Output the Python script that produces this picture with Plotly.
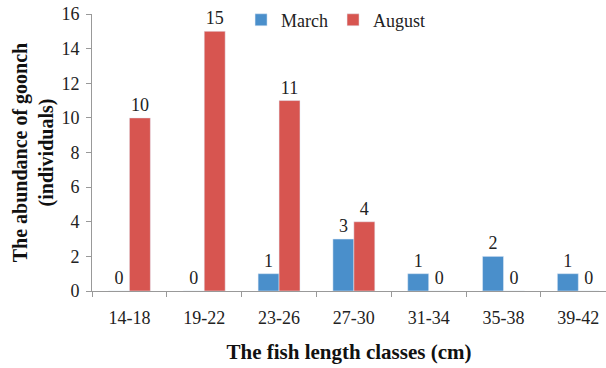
import plotly.graph_objects as go

categories = ["14-18", "19-22", "23-26", "27-30", "31-34", "35-38", "39-42"]
march = [0, 0, 1, 3, 1, 2, 1]
august = [10, 15, 11, 4, 0, 0, 0]
y_ticks = [0, 2, 4, 6, 8, 10, 12, 14, 16]

FONT = "Liberation Serif, Times New Roman, serif"

fig = go.Figure()
fig.add_trace(go.Bar(x=categories, y=march, name="March", marker_color="#4A8FCB",
                     text=[str(v) for v in march], textposition="outside",
                     textfont=dict(family=FONT, size=18, color="#222"), cliponaxis=False))
fig.add_trace(go.Bar(x=categories, y=august, name="August", marker_color="#D75550",
                     text=[str(v) for v in august], textposition="outside",
                     textfont=dict(family=FONT, size=18, color="#222"), cliponaxis=False))

fig.update_layout(
    width=606, height=368,
    margin=dict(l=92, r=0, t=14, b=77, autoexpand=False),
    paper_bgcolor="white", plot_bgcolor="white",
    barmode="group", bargap=0.44, bargroupgap=0,
    font=dict(family=FONT, size=18, color="#222"),
    legend=dict(orientation="h", x=0.29, y=0.978, xanchor="left", yanchor="middle",
                font=dict(family=FONT, size=18, color="#222"), bgcolor="rgba(0,0,0,0)",
                itemwidth=30, tracegroupgap=0),
    xaxis=dict(range=[-0.5, 6.37], showline=True, linecolor="#999", linewidth=1,
               ticks="outside", tickson="boundaries", ticklen=5, tickcolor="#999",
               automargin=False, ticklabelstandoff=10,
               tickfont=dict(family=FONT, size=18, color="#222"),
               title=dict(text="<b>The fish length classes (cm)</b>",
                          font=dict(family=FONT, size=21, color="#111"), standoff=17)),
    yaxis=dict(range=[0, 16], tickvals=y_ticks, showline=True, linecolor="#999", linewidth=1,
               ticks="outside", ticklen=5, tickcolor="#999", showgrid=False, zeroline=False,
               automargin=False, ticklabelstandoff=3,
               tickfont=dict(family=FONT, size=18, color="#222"),
               title=dict(text="<b>The abundance of goonch<br>(individuals)</b>",
                          font=dict(family=FONT, size=20, color="#111"), standoff=2)),
)

fig.write_html("out.html", config={"displayModeBar": False},
               post_script="document.body.style.margin='0';")
